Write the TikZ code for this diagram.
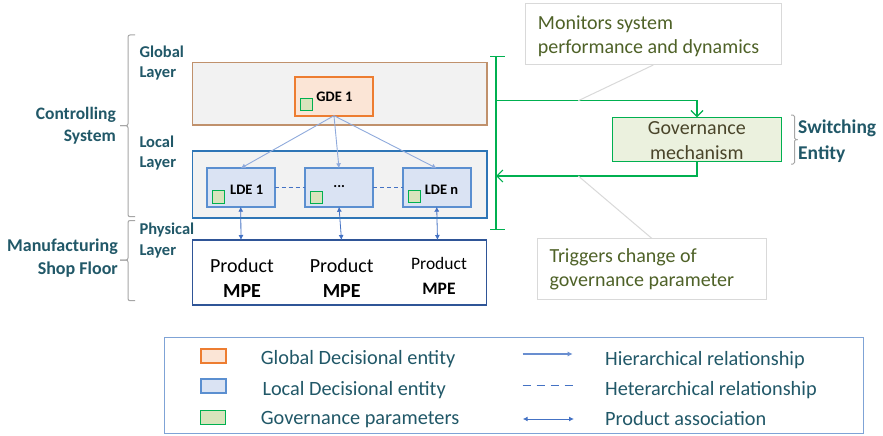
\documentclass[tikz,border=0pt]{standalone}
\usepackage{fontspec}
\setmainfont{Carlito}
\usetikzlibrary{arrows.meta}
\definecolor{labcol}{HTML}{215868}
\definecolor{glbdraw}{HTML}{C0916C}
\definecolor{layfill}{HTML}{F2F2F2}
\definecolor{gdedraw}{HTML}{ED7D31}
\definecolor{gdefill}{HTML}{FBE5D6}
\definecolor{locdraw}{HTML}{2E75B6}
\definecolor{ldedraw}{HTML}{5B8FD0}
\definecolor{ldefill}{HTML}{DAE3F3}
\definecolor{gpdraw}{HTML}{00B050}
\definecolor{gpfill}{HTML}{D8E4BC}
\definecolor{physdraw}{HTML}{2F5597}
\definecolor{hierc}{HTML}{8FAADC}
\definecolor{prodc}{HTML}{4472C4}
\definecolor{legdraw}{HTML}{7FA3D6}
\definecolor{govfill}{HTML}{EBF1DE}
\definecolor{govtext}{HTML}{4A452A}
\definecolor{calltext}{HTML}{4F6228}
\definecolor{callgray}{HTML}{D9D9D9}
\definecolor{bracegray}{HTML}{A6A6A6}
\begin{document}
\begin{tikzpicture}[x=1pt,y=-1pt,
  box/.style={anchor=north west,inner sep=0pt,outer sep=0pt},
  gpsq/.style={box,draw=gpdraw,fill=gpfill,line width=1pt,minimum width=12pt,minimum height=12.5pt},
  ldebox/.style={box,draw=ldedraw,fill=ldefill,line width=1.8pt,minimum width=68pt,minimum height=38.4pt},
  ldetxt/.style={inner sep=0pt,font=\fontsize{14.5}{17}\selectfont\bfseries,text=black},
  laytxt/.style={anchor=west,align=left,inner sep=0pt,text=labcol,font=\fontsize{16.5}{20.6}\selectfont\bfseries},
  sidetxt/.style={anchor=east,align=right,inner sep=0pt,text=labcol,font=\fontsize{17.5}{22}\selectfont\bfseries},
  prodtxt/.style={align=center,inner sep=0pt,text=black},
  hier/.style={draw=hierc,line width=0.9pt,-{Latex[length=5pt,width=5pt]}},
  prod/.style={draw=prodc,line width=0.8pt,{Latex[length=5pt,width=5pt]}-{Latex[length=5pt,width=5pt]}},
  hetero/.style={draw=prodc,line width=1pt,dash pattern=on 4pt off 3pt},
  greenln/.style={draw=gpdraw,line width=1.2pt},
  greenarr/.style={greenln,-{Straight Barb[length=6pt,width=12pt]}},
  callbox/.style={box,draw=callgray,fill=white,line width=1pt},
  calltxt/.style={anchor=west,align=left,inner sep=0pt,text=calltext,font=\fontsize{20}{24}\selectfont},
  legtxt/.style={anchor=west,inner sep=0pt,text=labcol,font=\fontsize{20.3}{24}\selectfont,text height=13pt,text depth=0pt},
  legsq/.style={box,minimum width=25pt,minimum height=14pt},
  bracepath/.style={draw=bracegray,line width=1pt,rounded corners=2pt}
]
\useasboundingbox (0,0) rectangle (883,436);
\fill[white] (0,0) rectangle (883,436);

% left braces and labels
\draw[bracepath] (135,35) -- (128,35) -- (128,125.7) -- (120,125.7);
\draw[bracepath] (120,125.7) -- (128,125.7) -- (128,216.7) -- (135,216.7);
\draw[bracepath] (135,220.5) -- (128,220.5) -- (128,260) -- (120,260);
\draw[bracepath] (120,260) -- (128,260) -- (128,300.7) -- (135,300.7);
\node[sidetxt] (ctrl) at (116,126) {Controlling\\System};
\node[sidetxt,font=\fontsize{18}{22.6}\selectfont\bfseries] (msf) at (118,258) {Manufacturing\\Shop Floor};
\node[laytxt] (glay) at (139.3,63) {Global\\Layer};
\node[laytxt] (llay) at (139.3,153) {Local\\Layer};
\node[laytxt] (play) at (139.3,240.5) {Physical\\Layer};

% global layer
\node[box,draw=glbdraw,fill=layfill,line width=1.2pt,minimum width=294.3pt,minimum height=62.3pt] (global) at (192.7,62.7) {};
\node[box,draw=gdedraw,fill=gdefill,line width=1.8pt,minimum width=78pt,minimum height=38.7pt] (gde) at (295,77) {};
\node[gpsq] (gdesq) at (300.7,98) {};
\node[ldetxt] (gdet) at (334.5,96.5) {GDE 1};

% local layer
\node[box,draw=locdraw,fill=layfill,line width=1.2pt,minimum width=294.3pt,minimum height=67pt] (local) at (192.7,151) {};
\node[ldebox] (lde1) at (206.7,168.3) {};
\node[ldebox] (ldem) at (305,168.3) {};
\node[ldebox] (lden) at (402.7,168.3) {};
\node[gpsq] (sq1) at (212.3,190.7) {};
\node[gpsq] (sqm) at (310,191) {};
\node[gpsq] (sqn) at (408.7,190) {};
\node[ldetxt] (lde1t) at (246.7,189.3) {LDE 1};
\node[ldetxt] (ldemt) at (339.3,187) {...};
\node[ldetxt] (ldent) at (441.5,189.3) {LDE n};
\draw[hetero] (lde1.east |- 0,187.3) -- (ldem.west |- 0,187.3);
\draw[hetero] (ldem.east |- 0,187.3) -- (lden.west |- 0,187.3);
\draw[hier] (gde.south) -- (lde1.north);
\draw[hier] (gde.south) -- (ldem.north);
\draw[hier] (gde.south) -- (lden.north);

% physical layer
\node[box,draw=physdraw,fill=white,line width=1.3pt,minimum width=294.4pt,minimum height=65pt] (phys) at (192.3,240) {};
\coordinate (pa) at (241,240);
\coordinate (pb) at (341.5,240);
\coordinate (pc) at (437.5,240);
\draw[prod] (lde1.south) -- (pa);
\draw[prod] (ldem.south) -- (pb);
\draw[prod] (lden.south) -- (pc);
\node[prodtxt,font=\fontsize{20}{25}\selectfont] (pr1) at (242,278) {Product\\\textbf{MPE}};
\node[prodtxt,font=\fontsize{20}{25}\selectfont] (pr2) at (341.7,278) {Product\\\textbf{MPE}};
\node[prodtxt,font=\fontsize{17.5}{25}\selectfont] (pr3) at (439,276) {Product\\\textbf{MPE}};

% switching entity
\coordinate (bartop) at (496,56.5);
\coordinate (barbot) at (496,229.3);
\draw[greenln] (bartop) -- (barbot);
\draw[greenln] (490,56.5) -- (504.5,56.5);
\draw[greenln] (490,229.3) -- (504.5,229.3);
\node[box,draw=gpdraw,fill=govfill,line width=1pt,minimum width=169.4pt,minimum height=44.4pt] (gov) at (612.3,117.3) {};
\node[align=center,inner sep=0pt,text=govtext,font=\fontsize{20}{24.4}\selectfont] (govt) at (696.8,140.5) {Governance\\mechanism};
\coordinate (topsplit) at (496,100.7);
\coordinate (botjoin) at (496,176);
\draw[greenarr] (topsplit) -| (gov.north);
\draw[greenarr] (gov.south) |- (botjoin);
\draw[bracepath,rounded corners=1.5pt] (791,115) -- (794.5,115) -- (794.5,139.5) -- (797.5,139.5);
\draw[bracepath,rounded corners=1.5pt] (797.5,139.5) -- (794.5,139.5) -- (794.5,164) -- (791,164);
\node[anchor=west,align=left,inner sep=0pt,text=labcol,font=\fontsize{19.5}{25.7}\selectfont\bfseries] (swe) at (798,141.2) {Switching\\Entity};

% callouts
\node[callbox,minimum width=256.7pt,minimum height=61.7pt] (mon) at (525,3.3) {};
\node[calltxt] (mont) at (537.7,35.8) {Monitors system\\performance and dynamics};
\coordinate (monpt) at (578.3,100.7);
\draw[draw=callgray,line width=1pt] (mon.south -| 653.3,0) -- (monpt);
\node[callbox,minimum width=228.3pt,minimum height=60.7pt] (trig) at (537.7,238.3) {};
\node[calltxt,font=\fontsize{20}{24.4}\selectfont] (trigt) at (549.3,269.5) {Triggers change of\\governance parameter};
\coordinate (trigpt) at (578.3,176);
\draw[draw=callgray,line width=1pt] (trigpt) -- (trig.north -| 651.7,0);

% legend
\node[box,draw=legdraw,fill=white,line width=1pt,minimum width=699.3pt,minimum height=96.5pt] (legend) at (164,337.3) {};
\node[legsq,draw=gdedraw,fill=gdefill,line width=1.8pt] (lg1) at (200.7,349.3) {};
\node[legsq,draw=ldedraw,fill=ldefill,line width=1.8pt] (lg2) at (200.7,379.3) {};
\node[legsq,draw=gpdraw,fill=gpfill,line width=1pt] (lg3) at (200.7,410.3) {};
\node[legtxt] (lt1) at (260.7,358.3) {Global Decisional entity};
\node[legtxt] (lt2) at (262.3,389.3) {Local Decisional entity};
\node[legtxt] (lt3) at (260.7,418.3) {Governance parameters};
\coordinate (la1) at (522.7,354); \coordinate (lb1) at (572.7,354);
\coordinate (la2) at (522.7,385.7); \coordinate (lb2) at (572.7,385.7);
\coordinate (la3) at (522.7,419); \coordinate (lb3) at (574,419);
\draw[hier,draw=prodc!80,line width=1.2pt] (la1) -- (lb1);
\draw[hetero,dash pattern=on 8pt off 6pt,line width=1.3pt] (la2) -- (lb2);
\draw[prod,line width=1pt] (la3) -- (lb3);
\node[legtxt] (rt1) at (605,358.8) {Hierarchical relationship};
\node[legtxt] (rt2) at (605,388.8) {Heterarchical relationship};
\node[legtxt] (rt3) at (605,418.8) {Product association};
\end{tikzpicture}
\end{document}
